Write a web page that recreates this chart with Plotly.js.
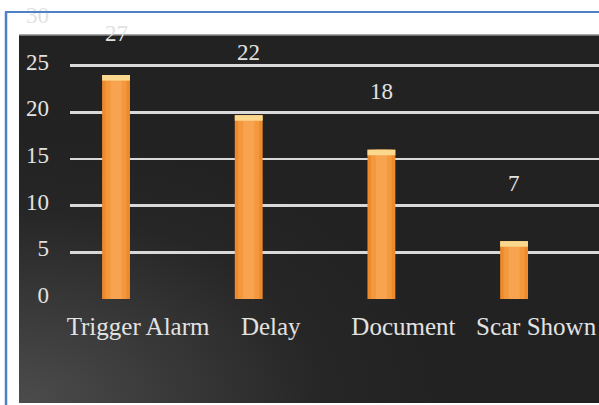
<!DOCTYPE html>
<html>
<head>
<meta charset="utf-8">
<script src="https://cdn.plot.ly/plotly-3.0.1.min.js"></script>
<style>html,body{margin:0;padding:0;background:#fff;}#chart{width:599px;height:405px;}</style>
</head>
<body>
<div id="chart"></div>
<script>
// ---- data ----
const categories = ["Trigger Alarm", "Delay", "Document", "Scar Shown"];
const barHeights = [24.0, 19.7, 16.0, 6.2];   // drawn bar heights (against the axis)
const valueLabels = ["27", "22", "18", "7"];  // numbers printed above the bars
const yTickVals = [0, 5, 10, 15, 20, 25, 30];

// ---- geometry ----
const W = 599, H = 405;
const M = {l: 70, r: 0, t: 19, b: 106};
const pw = W - M.l - M.r, ph = H - M.t - M.b;
const px2x = p => (p - M.l) / pw;
const py2y = p => (H - M.b - p) / ph;

const font = '"Liberation Serif", "Times New Roman", serif';
const txt = '#e2e2e2';

const bg = "<svg xmlns='http://www.w3.org/2000/svg' width='580' height='368' viewBox='0 0 580 368' preserveAspectRatio='none'>" +
  "<defs><radialGradient id='g' cx='0' cy='1' r='0.75' fx='0' fy='1'>" +
  "<stop offset='0' stop-color='#4c4c4c'/><stop offset='0.35' stop-color='#393939'/>" +
  "<stop offset='0.7' stop-color='#262626'/><stop offset='1' stop-color='#222222'/></radialGradient></defs>" +
  "<rect width='580' height='368' fill='#222222'/><rect width='580' height='368' fill='url(#g)'/></svg>";
const bgURI = 'data:image/svg+xml;charset=utf-8,' + encodeURIComponent(bg);

const barW = 0.21;
const traces = [
  {type: 'bar', x: categories, y: barHeights, width: barW,
   marker: {color: '#EC8A2C', line: {width: 0}}, hoverinfo: 'skip'},
  {type: 'bar', x: categories, y: barHeights, width: barW * 0.75,
   marker: {color: '#F4983E', line: {width: 0}}, hoverinfo: 'skip'},
  {type: 'bar', x: categories, y: barHeights, width: barW * 0.4,
   marker: {color: '#F7A34F', line: {width: 0}}, hoverinfo: 'skip'},
  {type: 'bar', x: categories, y: barHeights.map(() => 0.6), base: barHeights.map(v => v - 0.6),
   width: barW, marker: {color: '#FBD88E', line: {width: 0}}, hoverinfo: 'skip'}
];

const labelShift = [42, 63, 58, 58];
const annotations = categories.map((c, i) => ({
  x: c, y: barHeights[i], xref: 'x', yref: 'y', text: valueLabels[i],
  showarrow: false, yanchor: 'middle', yshift: labelShift[i],
  font: {family: font, size: 23, color: txt}
}));

const blue = '#4F81C7';
const shapes = [
  {type: 'line', xref: 'paper', yref: 'paper', x0: px2x(5), x1: px2x(600), y0: py2y(12), y1: py2y(12),
   line: {color: blue, width: 2}},
  {type: 'line', xref: 'paper', yref: 'paper', x0: px2x(6), x1: px2x(6), y0: py2y(12), y1: py2y(406),
   line: {color: blue, width: 2.5}},
  {type: 'line', xref: 'paper', yref: 'paper', x0: px2x(19), x1: px2x(600), y0: py2y(35), y1: py2y(35),
   line: {color: '#8a8a8a', width: 1.5}, layer: 'below'}
];

const layout = {
  width: W, height: H, margin: M,
  paper_bgcolor: '#ffffff', plot_bgcolor: 'rgba(0,0,0,0)',
  barmode: 'overlay', showlegend: false,
  font: {family: font, color: txt},
  images: [{source: bgURI, xref: 'paper', yref: 'paper', x: px2x(19), y: py2y(35),
    sizex: px2x(600) - px2x(19), sizey: py2y(35) - py2y(403), xanchor: 'left', yanchor: 'top',
    sizing: 'stretch', layer: 'below'}],
  xaxis: {type: 'category', range: [-0.347, 3.64], showgrid: false, showline: false, zeroline: false,
    ticks: '', tickfont: {family: font, size: 25, color: txt}, ticklabelshift: 22, ticklabelstandoff: 10,
    fixedrange: true},
  yaxis: {range: [0, 30], tickvals: yTickVals, showgrid: true, gridcolor: '#d9d9d9', gridwidth: 2.5,
    zeroline: false, showline: false, ticks: '', tickfont: {family: font, size: 23, color: txt},
    ticklabelstandoff: 20, ticklabelshift: -4, fixedrange: true},
  annotations: annotations, shapes: shapes
};

Plotly.newPlot('chart', traces, layout, {staticPlot: true, displayModeBar: false});
</script>
</body>
</html>
